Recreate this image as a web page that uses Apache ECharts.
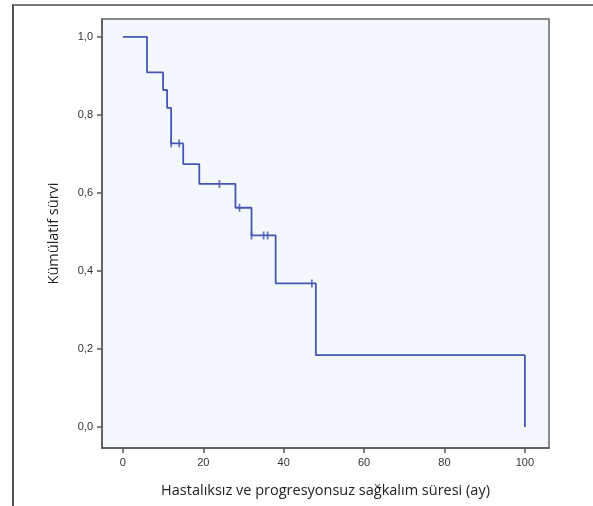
<!DOCTYPE html>
<html>
<head>
<meta charset="utf-8">
<script src="https://cdn.jsdelivr.net/npm/echarts@6/dist/echarts.min.js"></script>
<style>
  html, body { margin: 0; padding: 0; background: #fff; }
  #frame { position: absolute; left: 12px; top: 4px; width: 600px; height: 520px;
           border-left: 2px solid #555; border-top: 2px solid #777; }
  #chart { position: absolute; left: 0; top: 0; width: 593px; height: 506px; }
</style>
</head>
<body>
<div id="frame"></div>
<div id="chart"></div>
<script>
// Kaplan-Meier eğrisi: olay zamanları ve kümülatif sürvi
const eventTimes = [0, 6, 10, 11, 12, 15, 19, 28, 32, 38, 48, 100]
const survival = [1.0, 0.909, 0.864, 0.818, 0.727, 0.674, 0.623, 0.562, 0.491, 0.368, 0.184, 0.0]
// sansürlü gözlemler
const censorTimes = [12, 14, 24, 29, 32, 35, 36, 47]
const censorSurv = [0.727, 0.727, 0.623, 0.562, 0.491, 0.491, 0.491, 0.368]
// eksen etiketleri
const xTicks = [0, 20, 40, 60, 80, 100]
const yTicks = [0, 0.2, 0.4, 0.6, 0.8, 1.0]

const lineColor = '#4656b4'
const axisColor = '#555'
const labelFont = 'Liberation Sans'

const chart = echarts.init(document.getElementById('chart'))

chart.setOption({
  animation: false,
  grid: {
    left: 102,
    top: 19,
    right: 44,
    bottom: 58,
    show: true,
    backgroundColor: '#f4f8fc',
    borderColor: '#666',
    borderWidth: 1.5
  },
  xAxis: {
    type: 'value',
    min: -5.2,
    max: 106,
    name: 'Hastalıksız ve progresyonsuz sağkalım süresi (ay)',
    nameLocation: 'middle',
    nameGap: 35,
    nameTextStyle: {
      fontFamily: 'Open Sans',
      fontSize: 14.5,
      color: '#222'
    },
    splitLine: {show: false},
    axisLine: {show: true, onZero: false, lineStyle: {color: axisColor, width: 1.5}},
    axisTick: {
      show: true,
      length: 5,
      customValues: xTicks,
      lineStyle: {color: axisColor, width: 1.5}
    },
    axisLabel: {
      customValues: xTicks,
      margin: 9,
      fontFamily: labelFont,
      fontSize: 11,
      color: '#333'
    }
  },
  yAxis: {
    type: 'value',
    min: -0.054,
    max: 1.046,
    name: 'Kümülatif sürvi',
    nameLocation: 'middle',
    nameGap: 41,
    nameTextStyle: {
      fontFamily: 'Open Sans',
      fontSize: 14.5,
      color: '#222'
    },
    splitLine: {show: false},
    axisLine: {show: true, onZero: false, lineStyle: {color: axisColor, width: 1.5}},
    axisTick: {
      show: true,
      length: 5,
      customValues: yTicks,
      lineStyle: {color: axisColor, width: 1.5}
    },
    axisLabel: {
      customValues: yTicks,
      margin: 9,
      fontFamily: labelFont,
      fontSize: 11,
      color: '#333',
      formatter: function (value) {
        return value.toFixed(1).replace('.', ',')
      }
    }
  },
  series: [
    {
      type: 'line',
      step: 'end',
      symbol: 'none',
      data: eventTimes.map((t, i) => [t, survival[i]]),
      lineStyle: {color: lineColor, width: 1.8}
    },
    {
      type: 'scatter',
      symbol: 'rect',
      symbolSize: [1.8, 8],
      data: censorTimes.map((t, i) => [t, censorSurv[i]]),
      itemStyle: {color: lineColor}
    }
  ]
})
</script>
</body>
</html>
